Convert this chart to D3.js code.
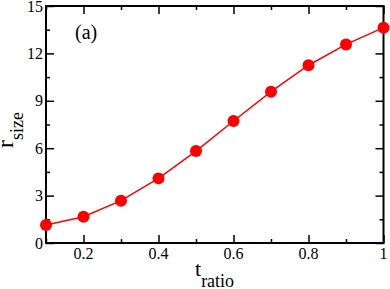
<!DOCTYPE html>
<html><head><meta charset="utf-8">
<script src="https://cdn.jsdelivr.net/npm/d3@7"></script>
<style>body{margin:0;background:#fff}svg{display:block}svg text{font-family:"Times New Roman",Times,"Liberation Serif","Nimbus Roman","Noto Serif","DejaVu Serif",serif}</style>
</head><body><svg id="c" width="390" height="289"></svg>
<script>
const tRatio = [0.1,0.2,0.3,0.4,0.5,0.6,0.7,0.8,0.9,1.0];
const rSize  = [1.14,1.66,2.68,4.09,5.82,7.72,9.58,11.25,12.57,13.63];
const xMajorTicks = [0.2,0.4,0.6,0.8,1.0];
const xTickLabels = ["0.2","0.4","0.6","0.8","1"];
const xMinorTicks = [0.1,0.3,0.5,0.7,0.9];
const yMajorTicks = [0,3,6,9,12,15];
const yMinorTicks = [1.5,4.5,7.5,10.5,13.5];

const svg = d3.select("#c");
const L=46, R=383.5, T=6, B=243;
const x = d3.scaleLinear().domain([0.1,1.0]).range([L,R]);
const y = d3.scaleLinear().domain([0,15]).range([B,T]);

function ticks(g, axisFn, scale, vals, size){
  g.call(axisFn(scale).tickValues(vals).tickSizeInner(size).tickSizeOuter(0).tickFormat(""));
  g.select(".domain").remove();
  g.selectAll(".tick line").attr("stroke","#000").attr("stroke-width",1.5);
}
ticks(svg.append("g").attr("transform",`translate(0,${B})`), s=>d3.axisTop(s), x, xMajorTicks, 8);
ticks(svg.append("g").attr("transform",`translate(0,${B})`), s=>d3.axisTop(s), x, xMinorTicks, 4);
ticks(svg.append("g").attr("transform",`translate(0,${T})`), s=>d3.axisBottom(s), x, xMajorTicks, 8);
ticks(svg.append("g").attr("transform",`translate(0,${T})`), s=>d3.axisBottom(s), x, xMinorTicks, 4);
ticks(svg.append("g").attr("transform",`translate(${L},0)`), s=>d3.axisRight(s), y, yMajorTicks, 8);
ticks(svg.append("g").attr("transform",`translate(${L},0)`), s=>d3.axisRight(s), y, yMinorTicks, 4);
ticks(svg.append("g").attr("transform",`translate(${R},0)`), s=>d3.axisLeft(s), y, yMajorTicks, 8);
ticks(svg.append("g").attr("transform",`translate(${R},0)`), s=>d3.axisLeft(s), y, yMinorTicks, 4);

svg.append("rect").attr("x",L).attr("y",T).attr("width",R-L).attr("height",B-T)
  .attr("fill","none").attr("stroke","#000").attr("stroke-width",2);

svg.append("g").selectAll("text").data(xMajorTicks).join("text")
  .attr("x",d=>x(d)).attr("y",B+16).attr("text-anchor","middle")
  .attr("font-size",16).text((d,i)=>xTickLabels[i]);
svg.append("g").selectAll("text").data(yMajorTicks).join("text")
  .attr("x",L-3).attr("y",d=>y(d)+5.5).attr("text-anchor","end")
  .attr("font-size",16).text(d=>d);

svg.append("path").datum(tRatio.map((t,i)=>[t,rSize[i]]))
  .attr("d",d3.line().x(d=>x(d[0])).y(d=>y(d[1])))
  .attr("fill","none").attr("stroke","#ff0000").attr("stroke-width",1.5);
svg.append("g").selectAll("circle").data(tRatio).join("circle")
  .attr("cx",d=>x(d)).attr("cy",(d,i)=>y(rSize[i])).attr("r",6).attr("fill","#ff0000");

svg.append("text").attr("x",75).attr("y",39).attr("font-size",20).text("(a)");

const xt = svg.append("text").attr("x",195).attr("y",276);
xt.append("tspan").attr("font-size",22).text("t");
xt.append("tspan").attr("font-size",18).attr("dy",11).text("ratio");
const yt = svg.append("text").attr("transform","translate(13,148) rotate(-90)");
yt.append("tspan").attr("font-size",24).text("r");
yt.append("tspan").attr("font-size",18).attr("dy",10).text("size");
</script></body></html>
